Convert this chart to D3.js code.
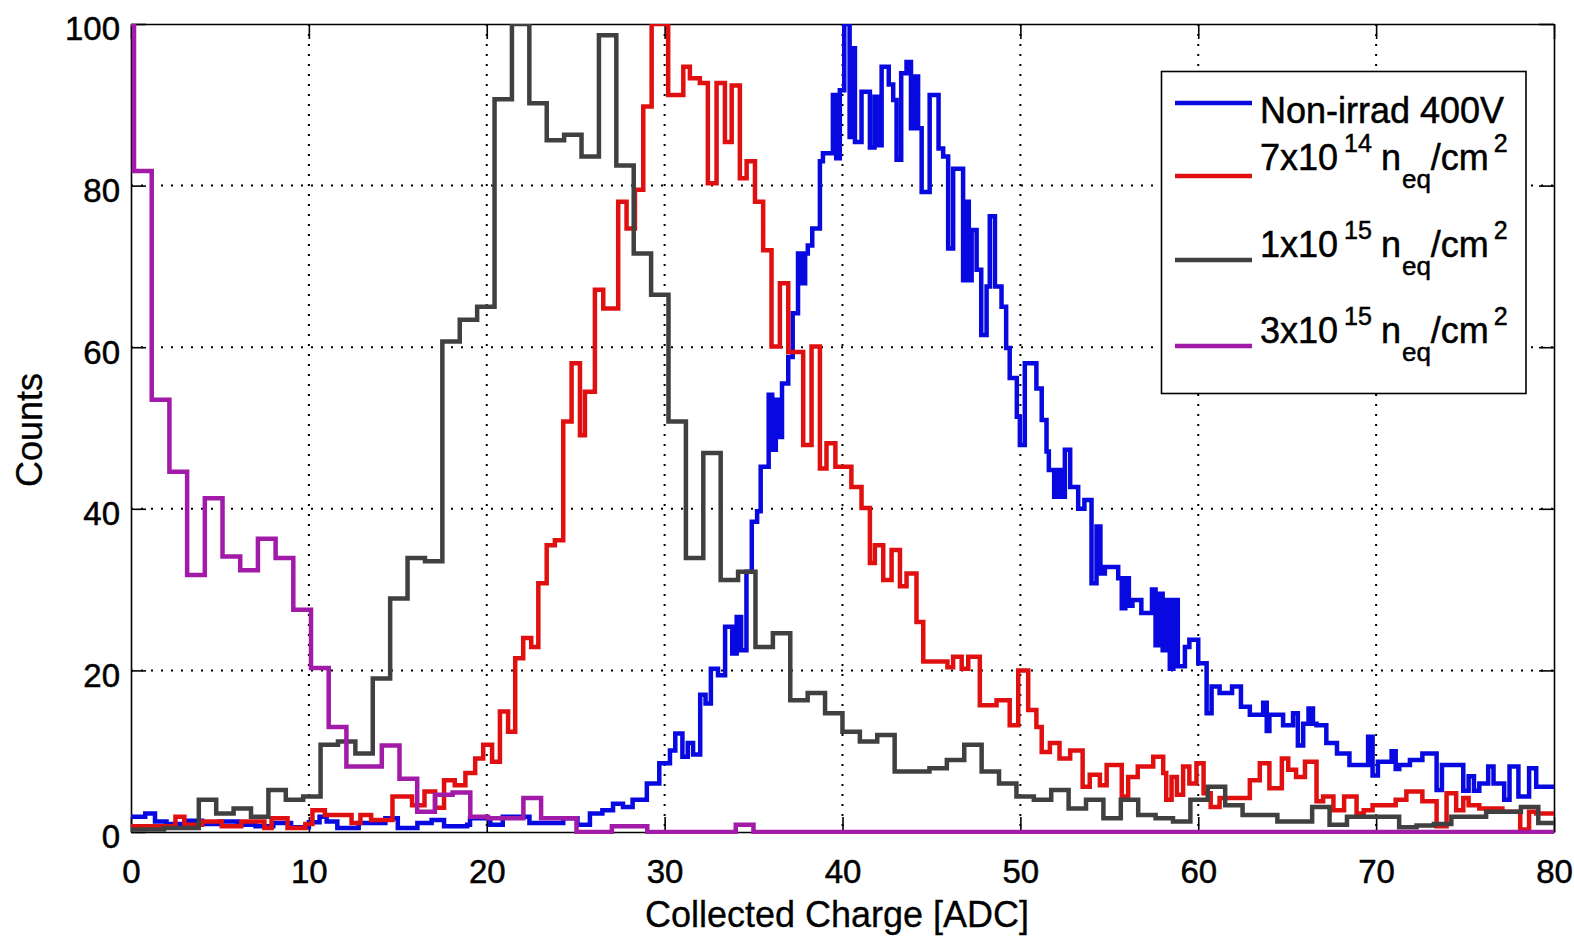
<!DOCTYPE html>
<html>
<head>
<meta charset="utf-8">
<script src="https://cdnjs.cloudflare.com/ajax/libs/d3/7.8.5/d3.min.js"></script>
<style>
body { margin: 0; background: #fff; }
svg text { font-family: "Liberation Sans", Arial, sans-serif; fill: #000; stroke: #000; stroke-width: 0.5px; }
</style>
</head>
<body>
<script>
var xTicks = [0, 10, 20, 30, 40, 50, 60, 70, 80];
var yTicks = [0, 20, 40, 60, 80, 100];

// non-irradiated, 400V : [step start (ADC), counts]
var nonIrrad = [[0,1.9],[0.8,2.3],[1.35,1.3],[2.0,1.0],[3.0,1.4],[4.0,1.0],[5.0,1.3],[6.0,0.9],[7.0,0.7],[8.0,1.1],
  [9.0,0.6],[10.0,1.2],[10.6,1.9],[11.0,1.3],[11.6,0.5],[12.8,1.1],[14.3,1.7],[15.0,0.5],[16.1,1.1],[16.9,1.5],
  [17.6,0.7],[18.9,0.9],[19.06,1.7],[20.2,0.9],[20.9,1.9],[22.4,1.1],[24.3,1.7],[25.1,0.9],[25.8,2.3],[26.5,2.7],
  [27.1,3.5],[27.66,3.1],[28.2,4.0],[29.0,6.0],[29.7,8.5],[30.3,10.1],[30.6,12.2],[31.0,9.3],[31.3,11.0],[31.6,9.6],
  [32.0,17.0],[32.3,15.9],[32.6,20.2],[33.0,19.4],[33.4,25.4],[33.8,22.1],[34.05,26.6],[34.3,22.5],[34.6,32.2],[34.9,38.4],
  [35.2,39.7],[35.4,45.2],[35.85,54.1],[36.05,47.3],[36.25,53.5],[36.45,48.9],[36.6,55.5],[36.95,58.8],[37.2,64.2],[37.5,71.6],
  [37.7,67.9],[37.9,71.6],[38.05,72.6],[38.3,74.7],[38.73,83.0],[38.9,84.0],[39.46,91.2],[39.65,83.4],[39.85,91.8],[40.1,100],
  [40.4,86.0],[40.55,97.0],[40.7,85.4],[41.07,91.6],[41.54,84.7],[41.8,91.0],[42.0,85.0],[42.2,94.7],[42.6,92.5],[42.85,90.6],
  [43.04,83.2],[43.3,93.9],[43.6,95.3],[43.85,87.1],[44.05,93.5],[44.25,87.1],[44.45,79.2],[44.9,91.2],[45.4,84.6],[45.66,83.6],
  [45.94,72.2],[46.22,82.1],[46.78,68.3],[46.95,78.0],[47.1,68.3],[47.26,74.5],[47.54,69.6],[47.8,61.5],[48.1,67.5],[48.28,76.2],
  [48.57,67.5],[48.94,65.0],[49.2,59.9],[49.4,56.2],[49.8,51.4],[49.97,47.9],[50.25,58.0],[50.9,54.9],[51.2,51.0],[51.47,47.1],
  [51.6,44.8],[51.9,41.5],[52.1,44.8],[52.3,41.5],[52.5,47.3],[52.8,42.7],[53.25,40.0],[53.6,41.1],[54.0,30.8],[54.28,37.8],
  [54.5,32.0],[54.75,32.8],[55.5,31.4],[55.7,27.7],[55.9,31.4],[56.1,28.0],[56.3,28.7],[56.8,27.1],[57.4,30.0],[57.6,23.1],
  [57.8,29.5],[58.0,22.5],[58.2,28.7],[58.4,20.2],[58.6,28.7],[58.85,20.5],[59.25,22.9],[59.5,23.8],[60.0,20.9],[60.47,14.7],
  [60.75,18.0],[61.2,17.2],[61.9,18.0],[62.4,15.5],[62.9,14.5],[63.65,16.0],[63.85,12.5],[64.0,14.5],[64.77,13.2],[65.33,14.7],
  [65.6,10.7],[65.9,13.4],[66.2,15.3],[66.45,13.4],[66.65,13.2],[67.2,11.0],[67.8,9.7],[68.5,8.3],[69.55,11.8],[69.8,7.0],
  [70.1,8.7],[70.87,10.0],[71.1,7.8],[71.3,8.3],[71.9,8.9],[72.6,9.7],[73.4,5.2],[73.7,8.3],[74.9,5.1],[75.2,6.9],
  [75.5,5.1],[75.8,6.0],[76.3,8.1],[76.6,6.0],[77.2,4.0],[77.5,8.1],[78.0,4.4],[78.6,7.9],[79.0,5.6]];

// 7x10^14 neq/cm2 : [step start (ADC), counts]
var fluence7e14 = [[0,0.7],[2.5,1.9],[3.0,0.9],[4.0,1.3],[5.1,0.7],[6.2,1.3],[7.5,0.5],[7.9,1.7],[8.8,0.5],[9.8,1.0],
  [10.2,2.7],[10.9,2.1],[12.4,1.1],[12.9,2.1],[13.5,1.5],[14.7,4.4],[15.8,3.3],[16.5,5.0],[17.1,3.0],[17.6,6.4],
  [18.2,5.8],[18.8,7.3],[19.35,9.1],[19.8,10.8],[20.3,8.7],[20.74,14.9],[21.2,12.4],[21.6,21.5],[22.05,24.0],[22.5,22.9],
  [22.9,30.8],[23.37,35.5],[23.83,36.1],[24.3,50.8],[24.77,58.0],[25.24,49.1],[25.52,54.5],[26.08,67.1],[26.55,64.8],[27.39,78.0],
  [27.86,74.7],[28.33,79.5],[28.8,89.8],[29.27,100],[30.2,91.2],[31.05,94.7],[31.42,93.3],[31.98,92.7],[32.43,80.3],[32.92,92.7],
  [33.39,85.4],[33.77,92.4],[34.23,80.9],[34.61,83.0],[35.08,78.0],[35.54,72.0],[36.01,60.1],[36.48,67.9],[36.95,59.4],[37.79,47.9],
  [38.26,60.1],[38.73,45.0],[39.1,48.1],[39.6,45.2],[40.5,42.7],[41.07,40.1],[41.54,33.3],[41.82,35.5],[42.29,31.2],[42.76,34.9],
  [43.23,30.4],[43.6,32.0],[44.16,26.0],[44.54,21.1],[45.9,20.4],[46.22,21.7],[46.7,20.2],[47.07,21.7],[47.72,15.7],[48.66,16.3],
  [49.4,13.2],[49.88,20.0],[50.44,15.1],[50.9,13.0],[51.2,9.9],[51.66,11.0],[52.2,9.1],[52.8,10.1],[53.5,5.6],[53.9,7.1],
  [54.47,5.8],[54.85,8.3],[55.7,4.4],[56.06,6.8],[56.6,8.1],[57.47,9.3],[58.03,7.3],[58.2,4.0],[58.5,6.8],[58.8,4.6],
  [59.15,8.1],[59.5,6.0],[59.9,8.5],[60.3,4.8],[60.7,3.1],[61.2,4.2],[62.9,6.4],[63.46,8.5],[64.0,5.4],[64.7,9.1],
  [65.06,7.7],[65.5,6.8],[66.0,8.7],[66.65,3.8],[67.02,4.4],[67.6,2.7],[68.2,4.4],[68.9,2.3],[69.3,2.7],[69.8,3.3],
  [71.1,4.0],[71.7,5.0],[72.6,3.8],[73.4,0.7],[73.96,4.8],[74.5,2.7],[74.9,4.2],[75.2,3.3],[75.8,2.9],[77.1,2.5],
  [78.1,0.3],[78.6,2.5],[79.0,2.3]];

// 1x10^15 neq/cm2 : equal-width bins
var fluence1e15Start = -0.1;
var fluence1e15Width = 0.978;
var fluence1e15 = [0.3, 0.3, 0.5, 0.5, 4.0, 2.3, 2.9, 1.9, 5.2, 4.0,
  4.4, 10.8, 11.2, 9.7, 19.0, 28.9, 33.9, 33.5, 60.7, 63.4,
  65.0, 90.7, 100, 90.2, 85.6, 86.3, 83.6, 98.6, 82.5, 71.6,
  66.5, 50.8, 33.9, 46.9, 31.2, 32.2, 22.9, 24.6, 16.3, 17.2,
  14.7, 12.4, 11.2, 12.0, 7.5, 7.5, 7.9, 8.9, 10.8, 7.5,
  6.0, 4.4, 4.0, 5.2, 2.9, 4.0, 1.7, 4.0, 2.1, 1.7,
  1.3, 4.0, 5.6, 3.3, 2.1, 2.1, 1.3, 1.3, 3.1, 0.9,
  1.9, 1.9, 1.9, 0.6, 0.8, 1.0, 1.9, 1.9, 2.5, 2.5,
  3.1, 1.1, 1.1];

// 3x10^15 neq/cm2 : equal-width bins
var fluence3e15Start = -0.825;
var fluence3e15Width = 0.995;
var fluence3e15 = [100, 81.8, 53.5, 44.6, 31.8, 41.3, 34.1, 32.4, 36.3, 33.9,
  27.5, 20.3, 13.0, 8.1, 8.1, 10.7, 6.6, 2.5, 4.6, 4.9,
  1.9, 1.7, 1.7, 4.2, 1.7, 1.7, 0, 0, 0.7, 0.7,
  0, 0, 0, 0, 0, 0.9, 0, 0, 0, 0,
  0, 0, 0, 0, 0, 0, 0, 0, 0, 0,
  0, 0, 0, 0, 0, 0, 0, 0, 0, 0,
  0, 0, 0, 0, 0, 0, 0, 0, 0, 0,
  0, 0, 0, 0, 0, 0, 0, 0, 0, 0,
  0, 0];

var legendLabels = ["Non-irrad 400V", "7x10", "1x10", "3x10"];
var legendExponents = ["", "14", "15", "15"];
var colors = ["#0808e0", "#e01010", "#404040", "#a21aa8"];

var xScale = d3.scaleLinear().domain([0, 80]).range([131, 1554]);
var yScale = d3.scaleLinear().domain([0, 100]).range([832, 24]);

var stairs = d3.line()
    .x(function(d){ return xScale(d[0]); })
    .y(function(d){ return yScale(d[1]); })
    .curve(d3.curveStepAfter);

var fromBins = function(start, width, counts){
    var pts = counts.map(function(c, i){ return [start + i * width, c]; });
    pts.push([start + counts.length * width, counts[counts.length - 1]]);
    return pts;
};
var fromSteps = function(steps){
    return steps.concat([[80, steps[steps.length - 1][1]]]);
};

var loadGrid = function(svg){
    var g = svg.append("g");
    g.selectAll(".vg").data(xTicks.slice(1, -1)).enter().append("line")
        .attr("x1", xScale).attr("x2", xScale)
        .attr("y1", yScale(100)).attr("y2", yScale(0));
    g.selectAll(".hg").data(yTicks.slice(1, -1)).enter().append("line")
        .attr("y1", yScale).attr("y2", yScale)
        .attr("x1", xScale(0)).attr("x2", xScale(80));
    g.selectAll("line")
        .attr("stroke", "#000")
        .attr("stroke-width", 2)
        .attr("stroke-dasharray", "2,8");
};

var loadAxis = function(svg){
    var style = function(g){
        g.attr("font-size", 33).attr("font-family", null);
        g.select(".domain").attr("stroke", "#000").attr("stroke-width", 1.6);
        g.selectAll(".tick line").attr("stroke", "#000").attr("stroke-width", 1.6);
    };
    svg.append("g").attr("transform", "translate(0,832)")
        .call(d3.axisBottom(xScale).tickValues(xTicks).tickSizeInner(-15).tickSizeOuter(0).tickPadding(28))
        .call(style);
    svg.append("g").attr("transform", "translate(131,0)")
        .call(d3.axisLeft(yScale).tickValues(yTicks).tickSizeInner(-15).tickSizeOuter(0).tickPadding(11))
        .call(style)
        .selectAll("text").attr("dy", "0.48em");
    svg.append("g").attr("transform", "translate(0,24)")
        .call(d3.axisTop(xScale).tickValues(xTicks).tickSizeInner(-15).tickSizeOuter(0).tickFormat(""))
        .call(style);
    svg.append("g").attr("transform", "translate(1554,0)")
        .call(d3.axisRight(yScale).tickValues(yTicks).tickSizeInner(-15).tickSizeOuter(0).tickFormat(""))
        .call(style);

    svg.append("text")
        .attr("x", 837).attr("y", 927)
        .attr("text-anchor", "middle")
        .attr("font-size", 36)
        .style("stroke-width", "0.3px")
        .text("Collected Charge [ADC]");
    svg.append("text")
        .attr("transform", "translate(42,430) rotate(-90)")
        .attr("text-anchor", "middle")
        .attr("font-size", 36)
        .style("stroke-width", "0.3px")
        .text("Counts");
};

var loadCurves = function(svg){
    svg.append("clipPath").attr("id", "plotClip")
        .append("rect")
        .attr("x", xScale(0)).attr("y", yScale(100))
        .attr("width", xScale(80) - xScale(0))
        .attr("height", yScale(0) - yScale(100) + 2);
    var series = [
        fromSteps(nonIrrad),
        fromSteps(fluence7e14),
        fromBins(fluence1e15Start, fluence1e15Width, fluence1e15),
        fromBins(fluence3e15Start, fluence3e15Width, fluence3e15)
    ];
    svg.append("g").attr("clip-path", "url(#plotClip)")
        .selectAll("path").data(series).enter().append("path")
        .attr("d", stairs)
        .attr("fill", "none")
        .attr("stroke", function(d, i){ return colors[i]; })
        .attr("stroke-width", 4.5)
        .attr("stroke-linejoin", "miter");
};

var loadLegend = function(svg){
    var g = svg.append("g");
    g.append("rect")
        .attr("x", 1161.5).attr("y", 71.5)
        .attr("width", 364.5).attr("height", 322)
        .attr("fill", "#fff").attr("stroke", "#000").attr("stroke-width", 1.6);
    var lineY = [103, 176, 260, 346];
    var textY = [123, 170, 257, 343];
    legendLabels.forEach(function(label, i){
        g.append("line")
            .attr("x1", 1175).attr("x2", 1252)
            .attr("y1", lineY[i]).attr("y2", lineY[i])
            .attr("stroke", colors[i]).attr("stroke-width", 4.5);
        var t = g.append("text").attr("x", 1260).attr("y", textY[i]).attr("font-size", 36);
        t.append("tspan").text(label);
        if (legendExponents[i]) {
            t.append("tspan").attr("font-size", 25).attr("dx", 6).attr("dy", -18).text(legendExponents[i]);
            t.append("tspan").attr("dx", 9).attr("dy", 18).text("n");
            t.append("tspan").attr("font-size", 26).attr("dx", 1).attr("dy", 18).text("eq");
            t.append("tspan").attr("dy", -18).text("/cm");
            t.append("tspan").attr("font-size", 25).attr("dx", 5).attr("dy", -18).text("2");
        }
    });
};

var loadGraph = function(){
    var svg = d3.select("body").append("svg")
        .attr("width", 1574)
        .attr("height", 938);
    loadGrid(svg);
    loadAxis(svg);
    loadCurves(svg);
    loadLegend(svg);
};

window.onload = loadGraph;
</script>
</body>
</html>
